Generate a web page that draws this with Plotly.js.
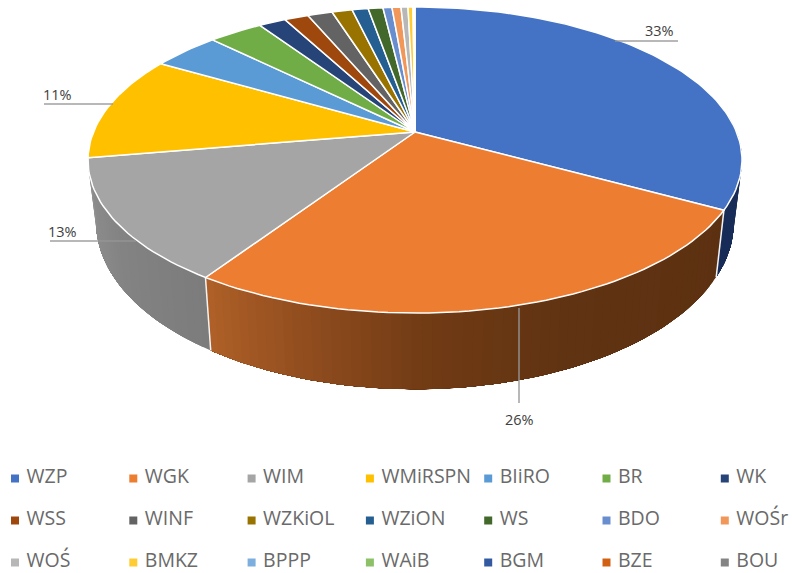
<!DOCTYPE html>
<html><head><meta charset="utf-8">
<script src="https://cdn.plot.ly/plotly-3.0.1.min.js"></script>
<style>html,body{margin:0;padding:0;background:#fff}#c{width:792px;height:573px}</style>
</head><body><div id="c"></div>
<script>
const categories=['WZP','WGK','WIM','WMiRSPN','BIiRO','BR','WK','WSS','WINF','WZKiOL','WZiON','WS','BDO','WOŚr','WOŚ','BMKZ','BPPP','WAiB','BGM','BZE','BOU'];
const shares=[33.0,26.3,13.0,11.1,4.0,3.2,1.6,1.42,1.46,1.2,0.95,0.87,0.53,0.53,0.41,0.29,0.05,0.03,0.02,0.01,0.01];
const colors=['#4472C4','#ED7D31','#A5A5A5','#FFC000','#5B9BD5','#70AD47','#264478','#9E480E','#636363','#997300','#255E91','#43682B','#698ED0','#F1975A','#B7B7B7','#FFCD33','#7CAFDD','#8CC168','#335AA1','#D26012','#848484'];
const labelled=[0,1,2,3];

// projection of the tilted disc
const CX=415,CY=132,A=321.5,B=147.9,K=0.183,BX=0.975,BY=1.09,BD=48;
const rad=d=>d*Math.PI/180;
function upper(t){const u=Math.sin(rad(t)),v=-Math.cos(rad(t)),w=1-K*v;return [CX+A*u/w,CY+B*v/w];}
function lower(t){const p=upper(t);return [CX+(p[0]-CX)*BX,BY*p[1]+BD];}
function arc(f,a,b,n){const o=[];for(let i=0;i<=n;i++)o.push(f(a+(b-a)*i/n));return o;}
function poly(pts,fill,line,lw,name){return {type:'scatter',mode:'lines',x:pts.map(p=>p[0]),y:pts.map(p=>p[1]),fill:'toself',fillcolor:fill,line:{color:line,width:lw},hoverinfo:'skip',showlegend:false,name:name};}
function mix(stops,f){let i=0;while(i<stops.length-2&&f>stops[i+1][0])i++;const s=stops[i],e=stops[i+1],q=Math.min(1,Math.max(0,(f-s[0])/(e[0]-s[0])));const c=[1,2,3].map(k=>Math.round(s[k]+(e[k]-s[k])*q));return `rgb(${c[0]},${c[1]},${c[2]})`;}

const total=shares.reduce((a,b)=>a+b,0);
const edges=[0];shares.forEach(v=>edges.push(edges[edges.length-1]+v/total*360));

const traces=[];
// side walls: each band runs on to the wall's far end and is overpainted by the next one
const navyStart=80;
const wallShade=[
 {i:0,from:navyStart,to:edges[1],stops:[[0,26,46,90],[1,24,44,88]]},
 {i:1,from:edges[1],to:edges[2],stops:[[0,92,49,17],[0.4,96,51,18],[0.62,112,58,20],[0.85,150,80,32],[1,176,97,40]]},
 {i:2,from:edges[2],to:edges[3],stops:[[0,124,124,124],[0.5,132,132,132],[1,146,146,146]]}
];
wallShade.forEach(w=>{
  const n=Math.max(2,Math.round((w.to-w.from)/1.5));
  for(let j=0;j<n;j++){
    const a=w.from+(w.to-w.from)*j/n;
    const pts=arc(upper,a,w.to,n-j+1).concat(arc(lower,w.to,a,n-j+1));pts.push(pts[0]);
    const c=mix(w.stops,(j+0.5)/n);
    traces.push(poly(pts,c,c,0,categories[w.i]));
  }
});
// seams
[edges[1],edges[2]].forEach(t=>{const p=[upper(t),lower(t)];traces.push({type:'scatter',mode:'lines',x:p.map(q=>q[0]),y:p.map(q=>q[1]),line:{color:'#f4f4f4',width:1.5},hoverinfo:'skip',showlegend:false});});
// top face
shares.forEach((v,i)=>{
  const a=edges[i],b=edges[i+1];
  const pts=[[CX,CY]].concat(arc(upper,a,b,Math.max(2,Math.ceil((b-a)/1.5))));pts.push([CX,CY]);
  traces.push(poly(pts,colors[i],'#ffffff',1.5,categories[i]));
});
// legend keys and names
const colX=15,colGap=118.3,rowY=478.5,rowGap=42,textGap=11.5;
categories.forEach((c,i)=>{
  const col=i%7,row=Math.floor(i/7);
  const kx=colX+col*colGap,ky=rowY+row*rowGap;
  traces.push({type:'scatter',mode:'markers',x:[kx],y:[ky],marker:{symbol:'square',size:8,color:colors[i]},hoverinfo:'skip',showlegend:false,name:c,cliponaxis:false});
  traces.push({type:'scatter',mode:'text',x:[kx+textGap],y:[ky],text:[c],textposition:'middle right',textfont:{family:'Open Sans, sans-serif',size:19.5,color:'#6a6a6a'},hoverinfo:'skip',showlegend:false,name:c,cliponaxis:false});
});

// percentage labels and their leader lines
const labelPos=[[659,30],[519,419],[62,231],[57,94]];
const leaderPos=[[615,41,678,41],[519,308,519,403],[50,241,136,241],[44,104,113,104]];
const annotations=labelled.map((k,n)=>({xref:'x',yref:'y',x:labelPos[n][0],y:labelPos[n][1],text:Math.round(shares[k])+'%',showarrow:false,xanchor:'center',yanchor:'middle',font:{family:'Open Sans, sans-serif',size:14.5,color:'#404040'}}));
const shapes=leaderPos.map(l=>({type:'line',xref:'x',yref:'y',x0:l[0],y0:l[1],x1:l[2],y1:l[3],line:{color:'rgba(150,150,150,0.9)',width:1.5}}));

Plotly.newPlot('c',traces,{
  width:792,height:573,margin:{l:0,r:0,t:0,b:0},paper_bgcolor:'#fff',plot_bgcolor:'#fff',showlegend:false,
  xaxis:{range:[0,792],visible:false,fixedrange:true},
  yaxis:{range:[573,0],visible:false,fixedrange:true},
  annotations,shapes
},{displayModeBar:false,staticPlot:true});
</script></body></html>
